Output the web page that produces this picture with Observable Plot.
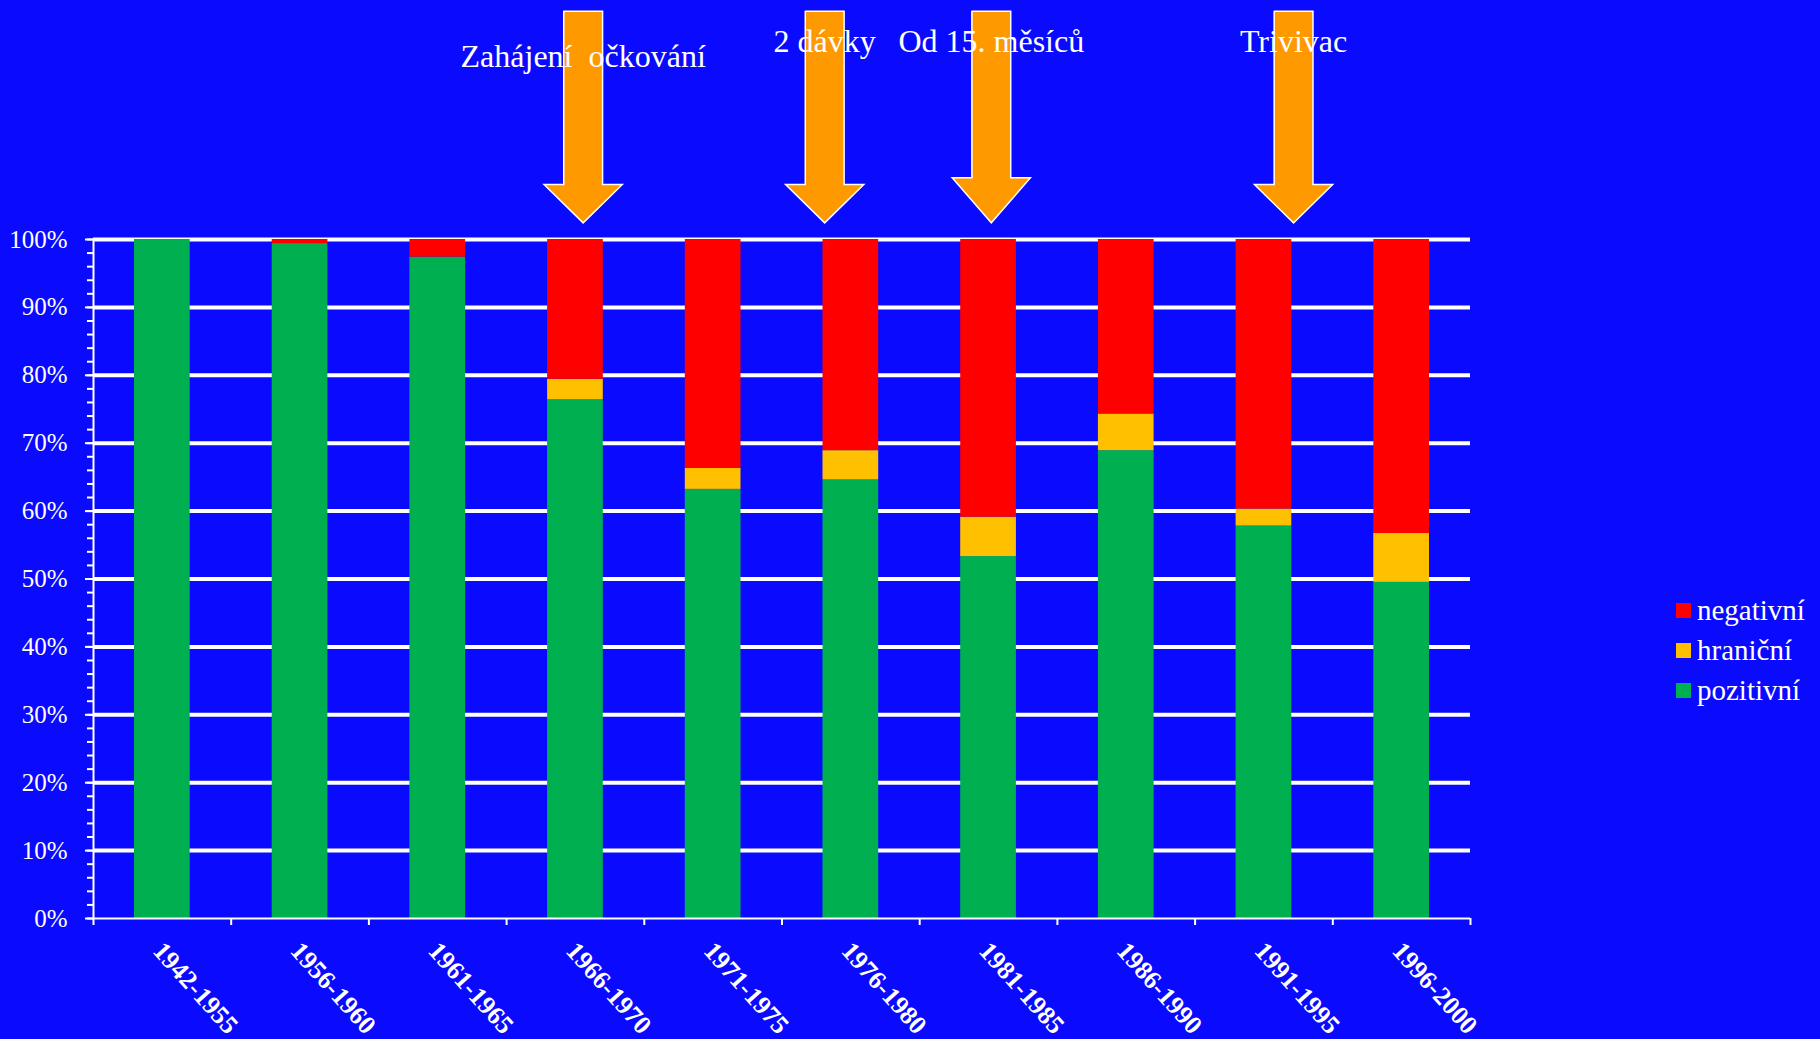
<!DOCTYPE html>
<html>
<head>
<meta charset="utf-8">
<script src="https://cdn.jsdelivr.net/npm/d3@7"></script>
<script src="https://cdn.jsdelivr.net/npm/@observablehq/plot@0.6"></script>
<style>
  html, body { margin: 0; padding: 0; background: #0A0AFF; overflow: hidden; }
  #wrap { position: relative; width: 1820px; height: 1039px; }
  svg text { white-space: pre; }
  #legend { position: absolute; left: 1676px; top: 590px; color: white;
            font-family: 'Liberation Serif', 'Times New Roman', serif; font-size: 29px; }
  #legend .row { display: flex; align-items: center; height: 40px; line-height: 40px; }
  #legend .sw { width: 15px; height: 15px; margin-right: 6px; }
</style>
</head>
<body>
<div id="wrap"><div id="legend"></div></div>
<script>
// ---- data ----
const periods = ["1942-1955","1956-1960","1961-1965","1966-1970","1971-1975","1976-1980","1981-1985","1986-1990","1991-1995","1996-2000"];
const pozitivni = [100, 99.4, 97.4, 76.4, 63.2, 64.6, 53.3, 68.9, 57.8, 49.5];
const hranicni  = [0,   0,    0,    3.0,  3.1,  4.3,  5.8,  5.4,  2.5,  7.2];
const negativni = [0,   0.6,  2.6,  20.6, 33.7, 31.1, 40.9, 25.7, 39.7, 43.3];
const statuses = ["pozitivní", "hraniční", "negativní"];
const statusColors = ["#00B050", "#FFC000", "#FF0000"];
const yMajorTicks = [0, 10, 20, 30, 40, 50, 60, 70, 80, 90, 100];
const yMinorTicks = d3.range(0, 101, 2);
const xTicks = d3.range(0, periods.length + 1);

// annotations (x in category-index units, y in % units)
const annotLabels = ["Zahájení  očkování", "2 dávky", "Od 15. měsíců", "Trivivac"];
const annotX      = [3.556, 5.31, 6.52, 8.715];
const annotTextY  = [125.4, 127.6, 127.6, 127.6];
const arrowTopY   = [133.6, 133.6, 133.6, 133.6];
const arrowHeadY  = [108.1, 108.1, 109.1, 108.1];
const arrowTipY   = [102.45, 102.45, 102.45, 102.45];
const shaftHalf = 0.141, headHalf = 0.284;

// ---- tables built from arrays ----
const seriesValues = [pozitivni, hranicni, negativni];
const rows = [];
periods.forEach((p, i) => statuses.forEach((s, k) => rows.push({period: p, idx: i, status: s, value: seriesValues[k][i]})));

const arrowPts = [];
annotX.forEach((x, k) => {
  const t = arrowTopY[k], h = arrowHeadY[k], tip = arrowTipY[k];
  [[x - shaftHalf, t], [x + shaftHalf, t], [x + shaftHalf, h], [x + headHalf, h], [x, tip],
   [x - headHalf, h], [x - shaftHalf, h], [x - shaftHalf, t]].forEach(([px, py]) => arrowPts.push({k, x: px, y: py}));
});
const annots = annotLabels.map((t, k) => ({t, x: annotX[k], y: annotTextY[k]}));

const font = "'Liberation Serif', 'Times New Roman', serif";

const chart = Plot.plot({
  width: 1820, height: 1039,
  marginLeft: 93, marginRight: 350, marginTop: 239, marginBottom: 121,
  x: {domain: [0, periods.length], axis: null},
  y: {domain: [0, 100], axis: null},
  color: {domain: statuses, range: statusColors},
  style: {background: "transparent", color: "white", fontFamily: font, overflow: "visible"},
  marks: [
    Plot.ruleY(yMajorTicks.filter(d => d > 0), {stroke: "white", strokeWidth: 4}),
    Plot.rectY(rows, {x: "idx", interval: 1, y: "value", fill: "status", order: statuses, insetLeft: 41, insetRight: 41}),
    Plot.ruleX([0], {y1: 0, y2: 100, stroke: "white", strokeWidth: 2}),
    Plot.ruleY([0], {stroke: "white", strokeWidth: 2}),
    Plot.axisY({ticks: yMinorTicks, tickSize: 6, tickFormat: () => "", stroke: "white", strokeWidth: 2}),
    Plot.axisY({ticks: yMajorTicks, tickSize: 8, tickPadding: 18, tickFormat: d => d + "%", fontSize: 25, color: "white", stroke: "white", strokeWidth: 2}),
    Plot.axisX({ticks: xTicks, tickSize: 7, tickFormat: () => "", stroke: "white", strokeWidth: 2}),
    Plot.text(periods, {x: (d, i) => i + 0.5, y: () => 0, text: d => d, dx: 3, dy: 21, rotate: 48,
      textAnchor: "start", lineAnchor: "top", fontSize: 26, fontWeight: "bold", fill: "white"}),
    Plot.line(arrowPts, {x: "x", y: "y", z: "k", fill: "#FF9900", stroke: "white", strokeWidth: 1.5,
      strokeLinejoin: "miter", strokeMiterlimit: 10, curve: "linear"}),
    Plot.text(annots, {x: "x", y: "y", text: "t", lineAnchor: "bottom", textAnchor: "middle", fontSize: 32, fill: "white"})
  ]
});
document.getElementById("wrap").prepend(chart);

// legend
const legend = document.getElementById("legend");
["negativní", "hraniční", "pozitivní"].forEach(s => {
  const row = document.createElement("div");
  row.className = "row";
  const sw = document.createElement("div");
  sw.className = "sw";
  sw.style.background = statusColors[statuses.indexOf(s)];
  const lab = document.createElement("span");
  lab.textContent = s;
  row.append(sw, lab);
  legend.append(row);
});
</script>
</body>
</html>
